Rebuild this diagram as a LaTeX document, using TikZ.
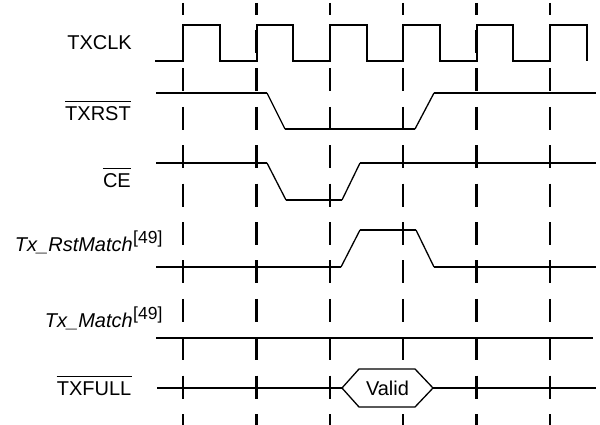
\documentclass[tikz,border=0pt]{standalone}
\usepackage{fontspec}
\setmainfont{Liberation Sans}
\begin{document}
\begin{tikzpicture}[x=1pt,y=-1pt,
  sig/.style={line width=2pt,line join=miter},
  slope/.style={line width=1.3pt},
  grid/.style={line width=2.2pt,dash pattern=on 23pt off 15.4pt,dash phase=11.4pt},
  lbl/.style={inner sep=0pt,anchor=base east,font=\fontsize{20}{24}\selectfont},
  sup/.style={inner sep=0pt,anchor=base west,font=\fontsize{17.5}{20}\selectfont},
  obar/.style={line width=1.3pt},
  hexa/.style={line width=1.3pt,fill=white}]
\useasboundingbox (0,0) rectangle (600,425);
% dashed timing grid
\foreach \x in {183,256.5,330,403,476.5,550}
  \draw[grid] (\x,3) -- (\x,425);
% labels
\node[lbl] (lclk) at (132,50) {TXCLK};
\node[lbl] (lrst) at (131,120.5) {TXRST};
\draw[obar] ([yshift=5pt]lrst.north west) -- ([yshift=5pt]lrst.north east);
\node[lbl] (lce) at (131,188) {CE};
\draw[obar] ([yshift=5pt]lce.north west) -- ([yshift=5pt]lce.north east);
\node[lbl,font=\fontsize{20}{24}\selectfont\itshape] (lrm) at (133,251) {Tx\_RstMatch};
\node[sup] (lrms) at ([yshift=8pt]lrm.base east) {[49]};
\node[lbl,font=\fontsize{20}{24}\selectfont\itshape] (lm) at (133,327) {Tx\_Match};
\node[sup] (lms) at ([yshift=8pt]lm.base east) {[49]};
\node[lbl] (lfull) at (131.5,395.5) {TXFULL};
\draw[obar] ([yshift=5pt]lfull.north west) -- ([yshift=5pt]lfull.north east);
% TXCLK
\draw[sig] (155,61) -- (183,61) -- (183,25) -- (220,25) -- (220,61)
  -- (256.5,61) -- (256.5,25) -- (293,25) -- (293,61)
  -- (330,61) -- (330,25) -- (367,25) -- (367,61)
  -- (403,61) -- (403,25) -- (440,25) -- (440,61)
  -- (476.5,61) -- (476.5,25) -- (513,25) -- (513,61)
  -- (550,61) -- (550,25) -- (587,25) -- (587,61);
% TXRST
\draw[sig] (156,93) -- (267,93);
\draw[slope] (267,93) -- (285,129);
\draw[sig] (285,129) -- (415,129);
\draw[slope] (415,129) -- (434,93);
\draw[sig] (434,93) -- (596,93);
% CE
\draw[sig] (156,163) -- (267,163);
\draw[slope] (267,163) -- (286,200);
\draw[sig] (286,200) -- (342,200);
\draw[slope] (342,200) -- (360,163);
\draw[sig] (360,163) -- (596,163);
% Tx_RstMatch
\draw[sig] (156,267) -- (341,267);
\draw[slope] (341,267) -- (360,230);
\draw[sig] (360,230) -- (416,230);
\draw[slope] (416,230) -- (434,267);
\draw[sig] (434,267) -- (596,267);
% Tx_Match
\draw[sig] (156,338) -- (593,338);
% TXFULL
\coordinate (hl) at (342,388);
\coordinate (hr) at (433,388);
\draw[hexa] (hl) -- (359,369) -- (415,369) -- (hr) -- (415,407) -- (359,407) -- cycle;
\node[inner sep=0pt,font=\fontsize{20}{24}\selectfont] (valid) at (387.5,388) {Valid};
\draw[sig] (157,388) -- (hl);
\draw[sig] (hr) -- (596,388);
\end{tikzpicture}
\end{document}
